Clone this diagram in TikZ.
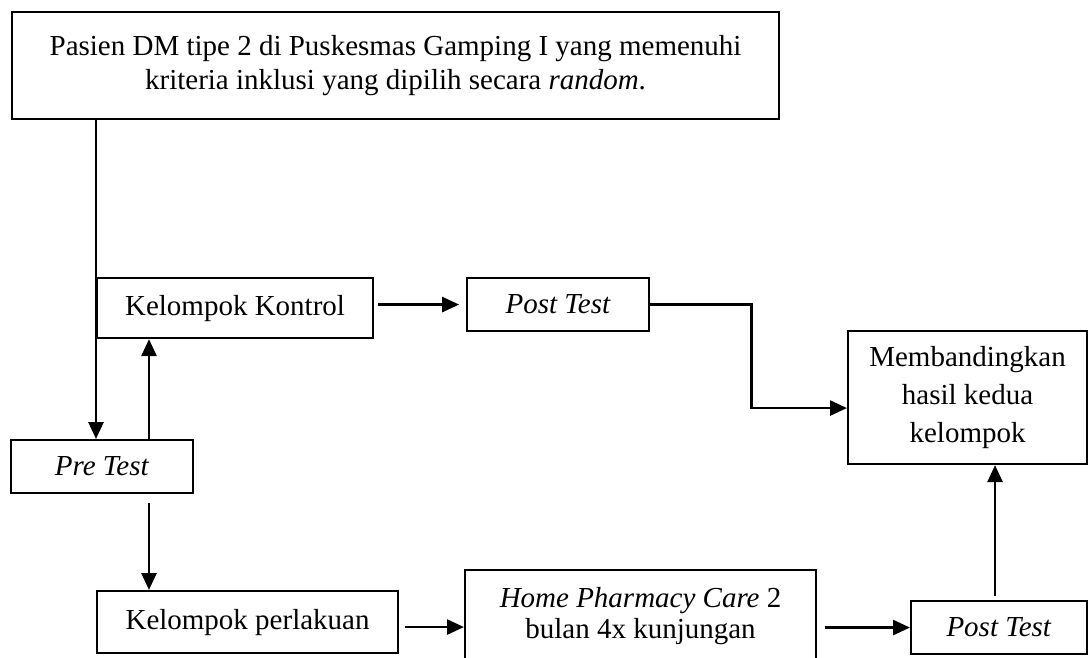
\documentclass[tikz,border=0pt]{standalone}
\usepackage{fontspec}
\setmainfont{Liberation Serif}
\usepackage{tikz}
\usetikzlibrary{arrows.meta, positioning, calc}
\tikzset{
  box/.style={rectangle, draw=black, fill=white, align=center,
    line width=1.2pt, inner sep=2pt},
  arrow/.style={-{Triangle[length=0.34cm, width=0.30cm]}, line width=1.5pt, color=black},
  line/.style={line width=1.5pt, color=black}
}

\begin{document}
\begin{tikzpicture}[font=\fontsize{16.5}{19.9}\selectfont]
  \path[use as bounding box] (0,0) rectangle (21.78,-13.16);
  \clip (0,0) rectangle (21.78,-13.16);

  \node[box, anchor=north west, minimum width=15.34cm, minimum height=2.14cm] (pasien) at (0.22,-0.22)
    {Pasien DM tipe 2 di Puskesmas Gamping I yang memenuhi\\kriteria inklusi yang dipilih secara \textit{random}.};
  \node[box, anchor=north west, minimum width=5.52cm, minimum height=1.2cm] (kontrol) at (1.92,-5.54) {Kelompok Kontrol};
  \node[box, minimum width=3.64cm, minimum height=1.06cm, right=1.84cm of kontrol.north east, anchor=north west] (posttop) {\textit{Post Test}};
  \node[box, anchor=north west, minimum width=4.78cm, minimum height=2.66cm, font=\fontsize{16.5}{21.6}\selectfont] (banding) at (16.94,-6.60)
    {Membandingkan\\hasil kedua\\kelompok};
  \node[box, anchor=north west, minimum width=3.64cm, minimum height=1.06cm] (pretest) at (0.20,-8.78) {\textit{Pre Test}};
  \node[box, anchor=north west, minimum width=6.02cm, minimum height=1.24cm] (perlakuan) at (1.92,-11.80) {Kelompok perlakuan};
  \node[box, anchor=north west, minimum width=7.02cm, minimum height=1.84cm, font=\fontsize{16.5}{18}\selectfont] (home) at (9.28,-11.38)
    {\textit{Home Pharmacy Care} 2\\bulan 4x kunjungan};
  \node[box, anchor=north west, minimum width=3.52cm, minimum height=1.06cm] (postbot) at (18.20,-12.00) {\textit{Post Test}};

  % split points under the pre test
  \coordinate (preup) at ([xshift=2.78cm]pretest.north west);
  \coordinate (predown) at ([xshift=2.78cm, yshift=-0.18cm]pretest.south west);
  \coordinate (bandin) at ([yshift=-0.21cm]banding.west);
  \coordinate (perout) at ([yshift=-0.1cm]perlakuan.east);

  \draw[arrow] (pasien.south -| kontrol.west) -- (pretest.north -| kontrol.west);
  \draw[arrow] (preup) -- (preup |- kontrol.south);
  \draw[arrow] (predown) -- (predown |- perlakuan.north);
  \draw[arrow, shorten <=0.08cm, shorten >=0.14cm] (posttop.west -| kontrol.east) -- (posttop.west);
  \draw[arrow] (posttop.east) -- ++(2.02,0) |- (bandin);
  \draw[arrow, shorten <=0.12cm] (perout) -- (perout -| home.west);
  \draw[arrow, shorten <=0.16cm] (postbot.west -| home.east) -- (postbot.west);
  \draw[arrow, shorten <=0.08cm] ([xshift=-0.08cm]postbot.north) -- ([xshift=-0.08cm]postbot.north |- banding.south);
\end{tikzpicture}
\end{document}
